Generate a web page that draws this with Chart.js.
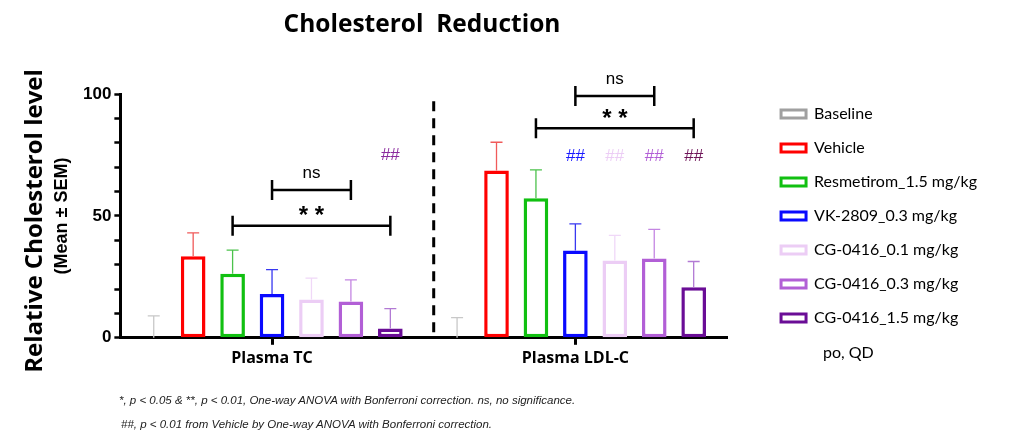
<!DOCTYPE html>
<html>
<head>
<meta charset="utf-8">
<script src="https://cdn.jsdelivr.net/npm/chart.js@4.4.0/dist/chart.umd.min.js"></script>
<style>
  body { margin: 0; background: #fff; }
  #wrap { position: relative; width: 1023px; height: 444px; overflow: hidden; }
  canvas { position: absolute; left: 0; top: 0; }
  .t { position: absolute; white-space: nowrap; color: #000; }
  #title { left: 422px; top: 22px; transform: translate(-50%, -50%); font: bold 24.5px "Open Sans", sans-serif; }
  #ytitle { left: 32px; top: 221px; transform: translate(-50%, -50%) rotate(-90deg); font: bold 24px "Open Sans", sans-serif; }
  #ysub { left: 61px; top: 216px; transform: translate(-50%, -50%) rotate(-90deg); font: bold 18px "Liberation Sans", Arial, sans-serif; }
  #po { left: 823px; top: 342px; font: 16px Lato, sans-serif; }
  .note { font: italic 11.5px "Liberation Sans", Arial, sans-serif; color: #222; }
</style>
</head>
<body>
<div id="wrap">
  <canvas id="chart" width="1023" height="444"></canvas>
  <div class="t" id="title">Cholesterol&nbsp; Reduction</div>
  <div class="t" id="ytitle">Relative Cholesterol level</div>
  <div class="t" id="ysub">(Mean ± SEM)</div>
  <div class="t" id="po">po, QD</div>
  <div class="t note" style="left:119px;top:394px;">*, p &lt; 0.05 &amp; **, p &lt; 0.01, One-way ANOVA with Bonferroni correction. ns, no significance.</div>
  <div class="t note" style="left:121px;top:418px;">##, p &lt; 0.01 from Vehicle by One-way ANOVA with Bonferroni correction.</div>
</div>
<script>
// data
var categories = ['Plasma TC', 'Plasma LDL-C'];
var groups = ['Baseline', 'Vehicle', 'Resmetirom_1.5 mg/kg', 'VK-2809_0.3 mg/kg',
              'CG-0416_0.1 mg/kg', 'CG-0416_0.3 mg/kg', 'CG-0416_1.5 mg/kg'];
var tcMean  = [0, 33.5, 26.3, 18.0, 15.7, 14.9, 3.8];
var tcSem   = [9.0, 9.5, 9.7, 10.0, 8.8, 8.9, 8.2];
var ldlMean = [0, 68.6, 57.2, 35.8, 31.7, 32.5, 20.7];
var ldlSem  = [8.3, 11.6, 11.7, 10.9, 10.3, 12.0, 10.6];
var yTicks = [0, 50, 100];

// significance marks: category index, from group, to group, level
var brackets = [
  { cat: 0, from: 3, to: 5, y: 60.6, text: 'ns' },
  { cat: 0, from: 2, to: 6, y: 46.0, text: '**' },
  { cat: 1, from: 3, to: 5, y: 99.2, text: 'ns' },
  { cat: 1, from: 2, to: 6, y: 86.0, text: '**' }
];
var hashes = [
  { cat: 0, group: 6, y: 74.8, color: '#8a2a9e' },
  { cat: 1, group: 3, y: 74.5, color: '#1a1aff' },
  { cat: 1, group: 4, y: 74.5, color: '#eccdf5' },
  { cat: 1, group: 5, y: 74.5, color: '#b25fd6' },
  { cat: 1, group: 6, y: 74.5, color: '#6e1458' }
];

var colors    = ['#c8c8c8', '#ff0000', '#11c011', '#0a0aff', '#eccdf5', '#b25fd6', '#6a0d96'];
var legendCol = ['#a0a0a0', '#ff0000', '#11c011', '#0a0aff', '#eccdf5', '#b25fd6', '#6a0d96'];
var errCol    = ['#c8c8c8', '#f05a5a', '#4cc24c', '#3838f0', '#f0d8f8', '#c486e2', '#b27ad4'];

var legendGap = 36; // extra room between plot and legend

var datasets = groups.map(function (g, i) {
  return {
    label: g,
    data: [tcMean[i], ldlMean[i]],
    sem: [tcSem[i], ldlSem[i]],
    xAxisID: 'x',
    yAxisID: 'y',
    backgroundColor: '#ffffff',
    borderColor: colors[i],
    borderWidth: 3.5,
    borderSkipped: false
  };
});

// widen the legend box so the plot ends before it, then move the items back right
var legendSpace = {
  id: 'legendSpace',
  beforeLayout: function (chart) {
    var lg = chart.legend;
    if (lg && !lg._widened) {
      var fit = lg.fit;
      lg.fit = function () { fit.call(this); this.width += legendGap; };
      lg._widened = true;
    }
  },
  afterLayout: function (chart) {
    if (chart.legend) chart.legend.left += legendGap;
  }
};

var errorBars = {
  id: 'errorBars',
  afterDatasetsDraw: function (chart) {
    var ctx = chart.ctx, y = chart.scales.y;
    chart.data.datasets.forEach(function (ds, i) {
      chart.getDatasetMeta(i).data.forEach(function (bar, j) {
        var top = y.getPixelForValue(ds.data[j] + ds.sem[j]);
        var base = y.getPixelForValue(ds.data[j]);
        ctx.save();
        ctx.strokeStyle = errCol[i];
        ctx.lineWidth = 1.3;
        ctx.beginPath();
        ctx.moveTo(bar.x, base); ctx.lineTo(bar.x, top);
        ctx.moveTo(bar.x - 6, top); ctx.lineTo(bar.x + 6, top);
        ctx.stroke();
        ctx.restore();
      });
    });
  }
};

var marks = {
  id: 'marks',
  afterDraw: function (chart) {
    var ctx = chart.ctx, y = chart.scales.y, x = chart.scales.x;
    ctx.save();
    // dashed separator between the two panels
    var sep = (x.getPixelForValue(0) + x.getPixelForValue(1)) / 2 + 10;
    ctx.setLineDash([10, 7]);
    ctx.lineWidth = 3;
    ctx.strokeStyle = '#000';
    ctx.beginPath();
    ctx.moveTo(sep, y.getPixelForValue(97)); ctx.lineTo(sep, y.getPixelForValue(0));
    ctx.stroke();
    ctx.setLineDash([]);

    brackets.forEach(function (b) {
      var x1 = chart.getDatasetMeta(b.from).data[b.cat].x;
      var x2 = chart.getDatasetMeta(b.to).data[b.cat].x;
      var yy = y.getPixelForValue(b.y);
      ctx.lineWidth = 2.5;
      ctx.strokeStyle = '#000';
      ctx.beginPath();
      ctx.moveTo(x1, yy); ctx.lineTo(x2, yy);
      ctx.moveTo(x1, yy - 10); ctx.lineTo(x1, yy + 10);
      ctx.moveTo(x2, yy - 10); ctx.lineTo(x2, yy + 10);
      ctx.stroke();
      ctx.fillStyle = '#000';
      ctx.textAlign = 'center';
      ctx.textBaseline = 'middle';
      if (b.text === 'ns') {
        ctx.font = '17px "Liberation Sans", Arial, sans-serif';
        ctx.fillText('ns', (x1 + x2) / 2, yy - 17);
      } else {
        ctx.font = 'bold 24px "Liberation Sans", Arial, sans-serif';
        ctx.fillText('* *', (x1 + x2) / 2, yy - 9);
      }
    });

    hashes.forEach(function (h) {
      var hx = chart.getDatasetMeta(h.group).data[h.cat].x;
      ctx.fillStyle = h.color;
      ctx.font = '17px "Liberation Sans", Arial, sans-serif';
      ctx.textAlign = 'center';
      ctx.textBaseline = 'middle';
      ctx.fillText('##', hx, y.getPixelForValue(h.y));
    });
    ctx.restore();
  }
};

new Chart(document.getElementById('chart').getContext('2d'), {
  type: 'bar',
  data: { labels: categories, datasets: datasets },
  plugins: [legendSpace, errorBars, marks],
  options: {
    responsive: false,
    animation: false,
    layout: { padding: { left: 80, top: 88, bottom: 72, right: 36 } },
    datasets: { bar: { categoryPercentage: 0.91, barPercentage: 0.625 } },
    plugins: {
      title: { display: false },
      tooltip: { enabled: false },
      legend: {
        position: 'right',
        align: 'start',
        labels: {
          boxWidth: 25,
          boxHeight: 8,
          padding: 18,
          color: '#111',
          font: { family: 'Lato', size: 16 },
          generateLabels: function (chart) {
            return groups.map(function (g, i) {
              return { text: g, fillStyle: '#fff', strokeStyle: legendCol[i], lineWidth: 3, datasetIndex: i };
            });
          }
        }
      }
    },
    scales: {
      x: {
        grid: { display: true, drawOnChartArea: false, offset: false, tickLength: 7, tickWidth: 3, color: '#000' },
        border: { display: true, width: 3, color: '#000' },
        ticks: { color: '#000', padding: 4, font: { family: 'Open Sans', size: 16, weight: 'bold' } }
      },
      // empty spacer axis that keeps room above the plot but not above the legend
      xTop: {
        position: 'top',
        grid: { display: false }, border: { display: false }, ticks: { display: false },
        afterFit: function (s) { s.height = 6; }
      },
      y: {
        min: 0,
        max: 100,
        grid: { display: true, drawOnChartArea: false, tickLength: 6, tickWidth: 2.5, color: '#000' },
        border: { display: true, width: 3, color: '#000' },
        ticks: {
          stepSize: 10,
          autoSkip: false,
          color: '#000',
          padding: 3,
          font: { family: 'Liberation Sans', size: 17, weight: 'bold' },
          callback: function (v) { return yTicks.indexOf(v) >= 0 ? v : ''; }
        }
      }
    }
  }
});
</script>
</body>
</html>
